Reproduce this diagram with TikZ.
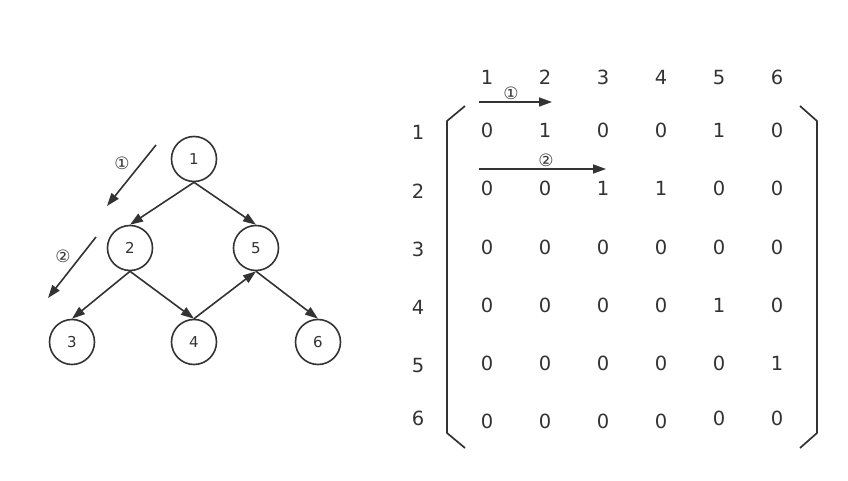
\documentclass[tikz,border=0pt]{standalone}
\usepackage{fontspec}
\setmainfont{DejaVu Sans}
\usepackage{tikz}
\usetikzlibrary{arrows.meta, positioning}
\tikzset{
    treenode/.style={draw=black!80, circle, line width=1.6pt, minimum size=45pt, inner sep=0pt, font=\fontsize{15}{15}\selectfont, text=black!80},
    entry/.style={font=\fontsize{19.5}{19.5}\selectfont, text=black!80, inner sep=0pt, anchor=base},
    steplabel/.style={font=\fontsize{17}{17}\selectfont, text=black!80, inner sep=0pt},
    edge/.style={->, draw=black!80, line width=1.6pt},
    bracket/.style={draw=black!80, line width=1.7pt},
}
\begin{document}
\begin{tikzpicture}[
    x=1pt, y=-1pt,
    >={Triangle[length=13pt, width=9pt]},
]
\useasboundingbox (0,0) rectangle (848,481);

% tree
\node[treenode] (n1) at (194,159) {1};
\node[treenode] (n2) at (130,248) {2};
\node[treenode] (n5) at (256,248) {5};
\node[treenode] (n3) at (72,342) {3};
\node[treenode] (n4) at (194,342) {4};
\node[treenode] (n6) at (318,342) {6};

\draw[edge] (n1.south) -- (n2.north);
\draw[edge] (n1.south) -- (n5.north);
\draw[edge] (n2.south) -- (n3.north);
\draw[edge] (n2.south) -- (n4.north);
\draw[edge] (n4.north) -- (n5.south);
\draw[edge] (n5.south) -- (n6.north);

% step arrows beside the tree
\coordinate (s1a) at (156,145);
\coordinate (s1b) at (107,206);
\coordinate (s2a) at (96,237);
\coordinate (s2b) at (48,298);
\draw[edge] (s1a) -- (s1b);
\draw[edge] (s2a) -- (s2b);
\node[steplabel] (l1) at (122,163) {①};
\node[steplabel] (l2) at (63,256) {②};

% matrix headers (baselines)
\foreach \c in {1,...,6}
    \node[entry] (h\c) at ({429+58*\c},85) {\c};
\foreach \y [count=\r] in {140,198,256,314,372,425}
    \node[entry] (r\r) at (418,\y) {\r};

% matrix entries
\foreach \vals [count=\r] in {{0,1,0,0,1,0},{0,0,1,1,0,0},{0,0,0,0,0,0},{0,0,0,0,1,0},{0,0,0,0,0,1},{0,0,0,0}}
    \foreach \v [count=\c] in \vals
        \node[entry] (m\r\c) at ({429+58*\c},{80+58*\r}) {\v};
\node[entry] (m65) at (719,425) {0};
\node[entry] (m66) at (777,425) {0};

% brackets
\draw[bracket] (465,106) -- (447,121) -- (447,433) -- (465,448);
\draw[bracket] (800,106) -- (817,121) -- (817,433) -- (800,448);

% row-scan arrows
\coordinate (a1a) at (479,102);
\coordinate (a1b) at (552,102);
\coordinate (a2a) at (479,169);
\coordinate (a2b) at (606,169);
\draw[edge] (a1a) -- (a1b);
\draw[edge] (a2a) -- (a2b);
\node[steplabel] (k1) at (511,93) {①};
\node[steplabel] (k2) at (546,160) {②};
\end{tikzpicture}
\end{document}
